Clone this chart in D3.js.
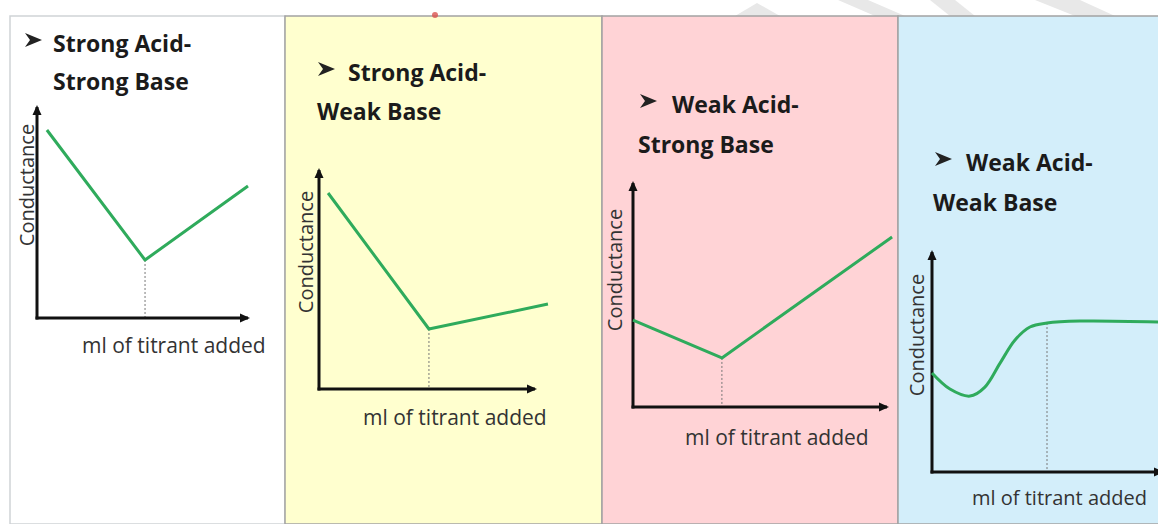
<!DOCTYPE html>
<html>
<head>
<meta charset="utf-8">
<script src="https://cdn.jsdelivr.net/npm/d3@7"></script>
<style>
  body { margin: 0; background: #fff; }
  svg { display: block; }
  .title { font-family: "Open Sans", sans-serif; font-weight: bold; font-size: 23px; fill: #1b1b1b; }
  .lab { font-family: "Open Sans", sans-serif; font-size: 20px; fill: #333; }
</style>
</head>
<body>
<svg width="1158" height="524"></svg>
<script>
    // values (axis units 0..10 on both axes)
    var panelTitles = [
      ["Strong Acid-", "Strong Base"],
      ["Strong Acid-", "Weak Base"],
      ["Weak Acid-", "Strong Base"],
      ["Weak Acid-", "Weak Base"]
    ];
    var xLabel = "ml of titrant added";
    var yLabel = "Conductance";

    var strongStrong = [[0.47, 8.91], [5.12, 2.75], [10.0, 6.26]];
    var strongWeak = [[0.42, 8.95], [5.09, 2.74], [10.6, 3.88]];
    var weakStrong = [[0, 3.88], [3.5, 2.19], [10.2, 7.59]];
    var weakWeak = [[0, 4.5], [0.78, 3.77], [1.65, 3.45], [2.3, 3.86], [2.96, 4.95],
                    [3.61, 6.0], [4.26, 6.59], [5.0, 6.77], [6.43, 6.86], [9.83, 6.82]];
    var equivalence = [[5.12, 2.75], [5.09, 2.74], [3.5, 2.19], [5.0, 6.77]];

    var curves = [strongStrong, strongWeak, weakStrong, weakWeak];

    // page layout (xl: x, baseline, font size of the x label)
    var layout = [
      {x0: 10,  x1: 285,  fill: "#ffffff", ax: [37, 248, 318, 107],  t: [25, 53, 52, 53, 90],     yl: [27, 185],  xl: [82, 353, 21],  smooth: false},
      {x0: 285, x1: 602,  fill: "#ffffcf", ax: [319, 535, 389, 170], t: [318, 348, 81, 317, 120], yl: [306, 252], xl: [363, 425, 21], smooth: false},
      {x0: 602, x1: 898,  fill: "#ffd3d6", ax: [633, 887, 407, 183], t: [640, 672, 113, 638, 153], yl: [615, 270], xl: [685, 445, 21], smooth: false},
      {x0: 898, x1: 1160, fill: "#d3eefa", ax: [932, 1162, 472, 252], t: [935, 966, 171, 933, 211], yl: [917, 335], xl: [972, 505, 20], smooth: true}
    ];

    var svg = d3.select("svg");
    var panelTop = 16;

    svg.append("defs").append("marker")
      .attr("id", "arrow")
      .attr("viewBox", "0 -5 10 10")
      .attr("refX", 8)
      .attr("markerUnits", "userSpaceOnUse")
      .attr("markerWidth", 10)
      .attr("markerHeight", 10)
      .attr("orient", "auto")
      .append("path")
      .attr("d", "M0,-4.5L10,0L0,4.5Z")
      .attr("fill", "#111");

    // faint watermark bands in the top strip
    var bands = [[[735, 16], [757, 3], [780, 16]], [[838, 0], [868, 0], [905, 16], [875, 16]],
                 [[930, 0], [955, 0], [975, 16], [950, 16]], [[1035, 0], [1080, 0], [1115, 16], [1075, 16]]];
    svg.selectAll(".band").data(bands).enter().append("polygon")
      .attr("points", function (d) { return d.join(" "); })
      .attr("fill", "#e8e8e8");

    layout.forEach(function (p, i) {
      var g = svg.append("g");

      g.append("rect")
        .attr("x", p.x0).attr("y", panelTop)
        .attr("width", p.x1 - p.x0).attr("height", 524 - panelTop)
        .attr("fill", p.fill)
        .attr("stroke", i == 0 ? "#cfd3d6" : "#a3a3a3")
        .attr("stroke-width", 1.5);

      var x = d3.scaleLinear().domain([0, 10]).range([p.ax[0], p.ax[1]]);
      var y = d3.scaleLinear().domain([0, 10]).range([p.ax[2], p.ax[3]]);

      // equivalence point drop line
      var eq = equivalence[i];
      g.append("line")
        .attr("x1", x(eq[0])).attr("x2", x(eq[0]))
        .attr("y1", y(eq[1])).attr("y2", y(0))
        .attr("stroke", "#777")
        .attr("stroke-width", 1)
        .attr("stroke-dasharray", "2,2");

      // axes with arrow heads
      g.append("line")
        .attr("x1", x(0)).attr("y1", y(0) + 1.5)
        .attr("x2", x(0)).attr("y2", y(10))
        .attr("stroke", "#111").attr("stroke-width", 3)
        .attr("marker-end", "url(#arrow)");
      g.append("line")
        .attr("x1", x(0) - 1.5).attr("y1", y(0))
        .attr("x2", x(10)).attr("y2", y(0))
        .attr("stroke", "#111").attr("stroke-width", 3)
        .attr("marker-end", "url(#arrow)");

      var line = d3.line()
        .x(function (d) { return x(d[0]); })
        .y(function (d) { return y(d[1]); })
        .curve(p.smooth ? d3.curveCatmullRom : d3.curveLinear);

      g.append("path")
        .datum(curves[i])
        .attr("d", line)
        .attr("fill", "none")
        .attr("stroke", "#2fab5c")
        .attr("stroke-width", 3)
        .attr("stroke-linejoin", "round");

      // titles with arrowhead bullet
      g.append("path")
        .attr("transform", "translate(" + p.t[0] + "," + (p.t[2] - 20) + ")")
        .attr("d", "M0,1L17,8L0,15L5,8Z")
        .attr("fill", "#222");
      g.append("text").attr("class", "title")
        .attr("x", p.t[1]).attr("y", p.t[2]).text(panelTitles[i][0]);
      g.append("text").attr("class", "title")
        .attr("x", p.t[3]).attr("y", p.t[4]).text(panelTitles[i][1]);

      g.append("text").attr("class", "lab")
        .attr("transform", "translate(" + (p.yl[0] + 7) + "," + p.yl[1] + ") rotate(-90)")
        .attr("text-anchor", "middle")
        .text(yLabel);
      g.append("text").attr("class", "lab")
        .attr("x", p.xl[0]).attr("y", p.xl[1])
        .style("font-size", p.xl[2] + "px")
        .text(xLabel);
    });

    svg.append("circle")
      .attr("cx", 435).attr("cy", 15).attr("r", 3)
      .attr("fill", "#d9534f").attr("opacity", 0.8);
</script>
</body>
</html>
